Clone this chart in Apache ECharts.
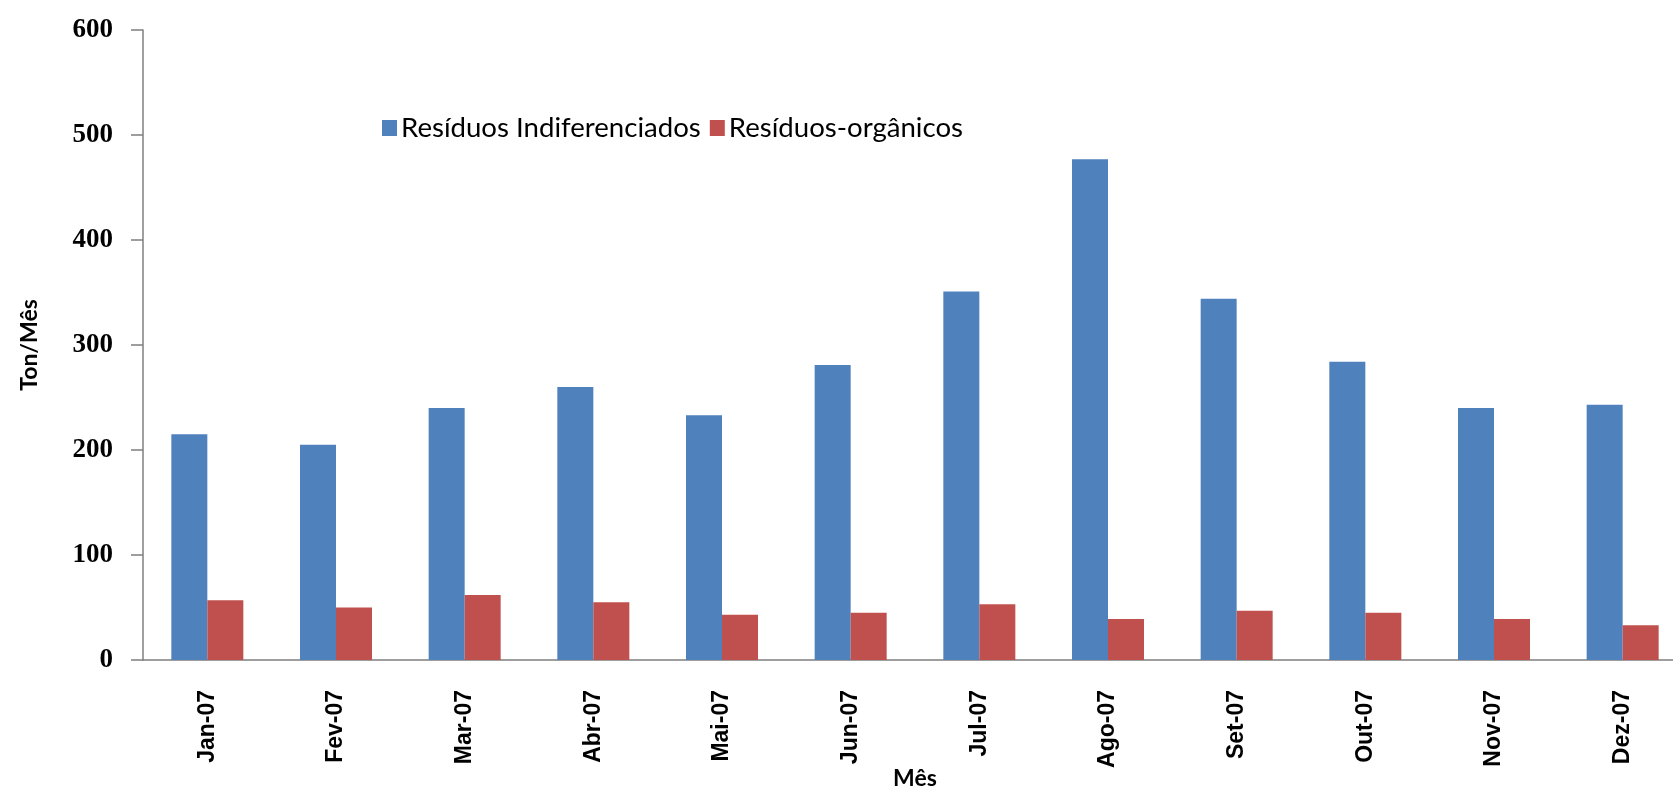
<!DOCTYPE html>
<html>
<head>
<meta charset="utf-8">
<script src="https://cdn.jsdelivr.net/npm/echarts@6/dist/echarts.min.js"></script>
<style>
  html, body { margin: 0; padding: 0; background: #fff; }
  #chart { width: 1673px; height: 790px; }
</style>
</head>
<body>
<div id="chart"></div>
<script>
// dados
var meses = ['Jan-07', 'Fev-07', 'Mar-07', 'Abr-07', 'Mai-07', 'Jun-07',
  'Jul-07', 'Ago-07', 'Set-07', 'Out-07', 'Nov-07', 'Dez-07'];
var indiferenciados = [215, 205, 240, 260, 233, 281, 351, 477, 344, 284, 240, 243];
var organicos = [57, 50, 62, 55, 43, 45, 53, 39, 47, 45, 39, 33];
var yTicks = [0, 100, 200, 300, 400, 500, 600];

var chart = echarts.init(document.getElementById('chart'));

var option = {
  animation: false,
  backgroundColor: '#ffffff',
  color: ['#4F81BD', '#C0504D'],
  grid: {
    left: 143,
    right: -14,
    top: 30,
    bottom: 130,
    outerBoundsMode: 'none'
  },
  legend: {
    left: 377,
    top: 109,
    itemWidth: 15,
    itemHeight: 16,
    itemGap: 9,
    icon: 'rect',
    textStyle: {
      fontFamily: 'Lato',
      fontSize: 27.6,
      color: '#000',
      padding: [0, 0, 0, -1]
    },
    data: ['Resíduos Indiferenciados', 'Resíduos-orgânicos']
  },
  xAxis: {
    type: 'category',
    data: meses,
    name: 'Mês',
    nameLocation: 'middle',
    nameGap: 107,
    nameMoveOverlap: false,
    nameTextStyle: {
      fontFamily: 'Lato',
      fontWeight: 'bold',
      fontSize: 23,
      color: '#000'
    },
    axisLine: { lineStyle: { color: '#7f7f7f', width: 1.5 } },
    axisTick: { length: 10, lineStyle: { color: '#7f7f7f', width: 1.5 } },
    axisLabel: {
      rotate: 90,
      margin: 30,
      fontFamily: 'Liberation Sans',
      fontWeight: 'bold',
      fontSize: 23,
      color: '#000'
    }
  },
  yAxis: {
    type: 'value',
    min: 0,
    max: 600,
    interval: 100,
    name: 'Ton/Mês',
    nameLocation: 'middle',
    nameGap: 102,
    nameMoveOverlap: false,
    nameTextStyle: {
      fontFamily: 'Lato',
      fontWeight: 'bold',
      fontSize: 23,
      color: '#000'
    },
    axisLine: { show: true, lineStyle: { color: '#7f7f7f', width: 1.5 } },
    axisTick: { show: true, inside: false, length: 12, lineStyle: { color: '#7f7f7f', width: 1.5 } },
    axisLabel: {
      margin: 30,
      fontFamily: 'Liberation Serif',
      fontWeight: 'bold',
      fontSize: 27,
      color: '#000',
      formatter: function (v) { return yTicks.indexOf(v) >= 0 ? String(v) : ''; }
    },
    splitLine: {
      lineStyle: {
        width: [1.5, 1.5, 1.5, 1.5, 1.5, 1.5, 3],
        color: ['#8c8c8c', '#8c8c8c', '#8c8c8c', '#8c8c8c', '#8c8c8c', '#8c8c8c', '#404040']
      }
    }
  },
  series: [{
    name: 'Resíduos Indiferenciados',
    type: 'bar',
    data: indiferenciados,
    barWidth: 36,
    barGap: '0%'
  }, {
    name: 'Resíduos-orgânicos',
    type: 'bar',
    data: organicos,
    barWidth: 36,
    barGap: '0%'
  }]
};

chart.setOption(option);
</script>
</body>
</html>
